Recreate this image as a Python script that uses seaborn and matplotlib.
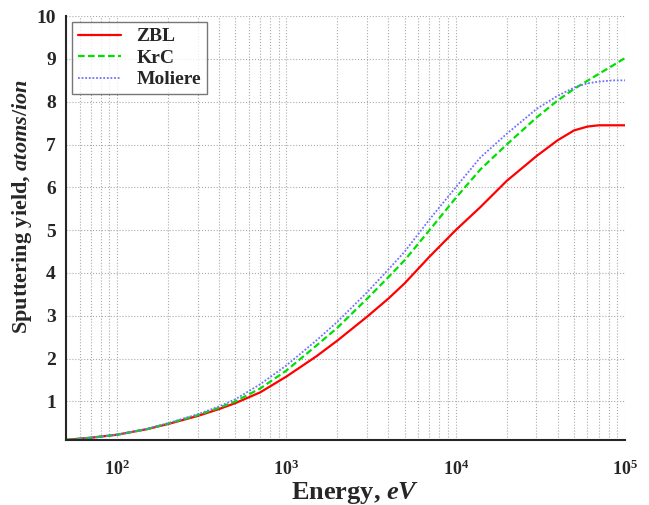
import numpy as np
import pandas as pd
import seaborn as sns
import matplotlib.pyplot as plt

# Energies (eV) and sputtering yields
energy = [50, 70, 100, 150, 200, 300, 400, 500, 700, 1000, 1500, 2000, 3000, 4000,
          5000, 7000, 10000, 14000, 20000, 30000, 40000, 50000, 60000, 70000, 85000, 100000]
zbl = [0.1, 0.15, 0.22, 0.35, 0.47, 0.66, 0.82, 0.96, 1.21, 1.58, 2.05, 2.42, 2.98, 3.4,
       3.76, 4.38, 5.0, 5.54, 6.15, 6.73, 7.1, 7.33, 7.42, 7.45, 7.45, 7.45]
krc = [0.1, 0.15, 0.22, 0.35, 0.48, 0.68, 0.85, 1.0, 1.3, 1.72, 2.3, 2.72, 3.4, 3.9,
       4.3, 5.0, 5.75, 6.42, 7.0, 7.63, 8.03, 8.3, 8.49, 8.65, 8.85, 9.02]
moliere = [0.1, 0.15, 0.22, 0.36, 0.49, 0.7, 0.88, 1.05, 1.4, 1.84, 2.42, 2.86, 3.55, 4.08,
           4.5, 5.25, 6.0, 6.7, 7.25, 7.83, 8.14, 8.33, 8.43, 8.47, 8.5, 8.5]

df = pd.DataFrame({'energy': energy, 'ZBL': zbl, 'KrC': krc, 'Moliere': moliere})

sns.set_style('white')
plt.rcParams['font.family'] = ['Liberation Serif', 'DejaVu Serif']
plt.rcParams['font.weight'] = 'bold'
plt.rcParams['mathtext.fontset'] = 'custom'
plt.rcParams['mathtext.it'] = 'Liberation Serif:italic:bold'
plt.rcParams['mathtext.rm'] = 'Liberation Serif:bold'

fig = plt.figure(figsize=(6.49, 5.05), dpi=100)
ax = fig.add_axes([0.102, 0.129, 0.861, 0.839])

sns.lineplot(data=df, x='energy', y='ZBL', ax=ax, color='#ff0000', lw=1.6, label='ZBL')
sns.lineplot(data=df, x='energy', y='KrC', ax=ax, color='#00e000', lw=1.6,
             linestyle=(0, (3, 1.5)), label='KrC')
sns.lineplot(data=df, x='energy', y='Moliere', ax=ax, color='#7070ff', lw=1.3,
             linestyle=(0, (1, 1)), label='Moliere')

ax.set_xscale('log')
ax.set_xlim(50, 1e5)
ax.set_ylim(0.1, 10)
ax.set_yticks(range(1, 11))
ax.grid(True, which='both', axis='x', color='#aaaaaa', linestyle=':', lw=0.8)
ax.grid(True, which='major', axis='y', color='#aaaaaa', linestyle=':', lw=0.8)

ax.spines['top'].set_visible(False)
ax.spines['right'].set_visible(False)
ax.spines['left'].set_linewidth(1.5)
ax.spines['bottom'].set_linewidth(1.5)
ax.tick_params(which='both', direction='out', width=1.2)
ax.tick_params(axis='y', labelsize=14)
ax.tick_params(axis='x', labelsize=13, pad=10)
ax.tick_params(which='major', length=4)
ax.tick_params(which='minor', length=3)
for lab in ax.get_xticklabels() + ax.get_yticklabels():
    lab.set_fontweight('bold')

ax.set_xlabel(r'Energy, $eV$', fontsize=19, fontweight='bold')
ax.set_ylabel(r'Sputtering yield, $atoms/ion$', fontsize=16, fontweight='bold')
ax.xaxis.set_label_coords(0.518, -0.095)
ax.yaxis.set_label_coords(-0.058, 0.55)

leg = ax.legend(loc='upper left', fontsize=14, frameon=True, fancybox=False,
                edgecolor='#555555', handlelength=2.2, borderpad=0.3,
                labelspacing=0.2, borderaxespad=0.3)
leg.get_frame().set_linewidth(1.0)
for t in leg.get_texts():
    t.set_fontweight('bold')

fig.savefig('out.png', dpi=100)
